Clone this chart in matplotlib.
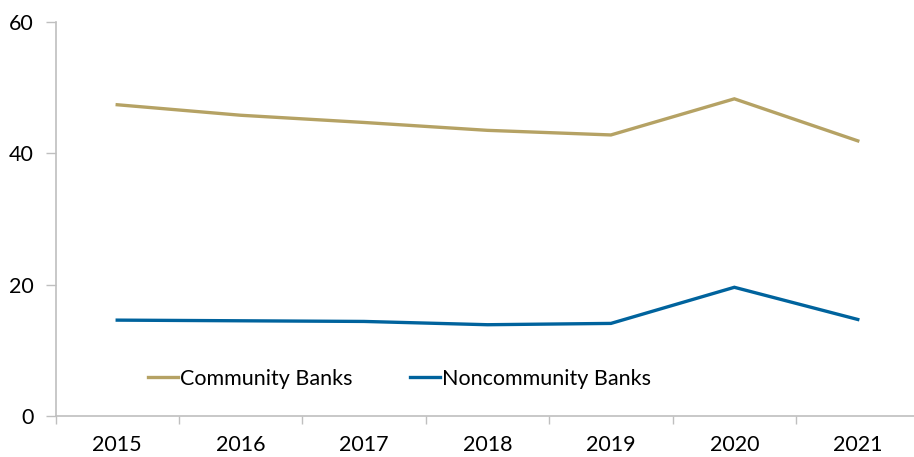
import matplotlib
matplotlib.use("Agg")
import matplotlib.pyplot as plt
import numpy as np

years = ["2015", "2016", "2017", "2018", "2019", "2020", "2021"]
community = [47.4, 45.8, 44.7, 43.5, 42.8, 48.3, 41.9]
noncommunity = [14.6, 14.5, 14.4, 13.9, 14.1, 19.6, 14.7]
yticks = [0, 20, 40, 60]

plt.rcParams['font.family'] = ['Lato', 'DejaVu Sans']

W, H = 914, 457
fig = plt.figure(figsize=(W / 100, H / 100), dpi=100)
ax = fig.add_axes([55.5 / W, 1 - 416 / H, 864 / W, (416 - 22) / H])

x = np.arange(len(years))
ax.plot(x, community, color="#B5A264", lw=2.4, label="Community Banks", solid_joinstyle="miter")
ax.plot(x, noncommunity, color="#00639D", lw=2.4, label="Noncommunity Banks", solid_joinstyle="miter")

ax.set_xlim(-0.5, len(years) - 0.5)
ax.set_ylim(0, 60)
ax.set_yticks(yticks)
ax.set_yticklabels([str(t) for t in yticks])
ax.set_xticks(x)
ax.set_xticklabels(years)
ax.set_xticks(np.arange(len(years) + 1) - 0.5, minor=True)

for s in ["top", "right"]:
    ax.spines[s].set_visible(False)
for s in ["left", "bottom"]:
    ax.spines[s].set_color("#BFBFBF")
    ax.spines[s].set_linewidth(1.2)

ax.tick_params(axis="x", which="major", length=0, pad=14, labelsize=15.5, colors="#000000")
ax.tick_params(axis="x", which="minor", length=6, width=1, color="#BFBFBF", direction="out")
ax.tick_params(axis="y", which="major", length=7, width=1, color="#BFBFBF", pad=9, labelsize=15.5)

leg = ax.legend(loc="center left", bbox_to_anchor=(0.107, 0.094), ncol=2, frameon=False,
                fontsize=15.5, handlelength=1.4, handletextpad=0.1, columnspacing=2.65,
                borderaxespad=0, borderpad=0)

fig.savefig("out.png", dpi=100)
